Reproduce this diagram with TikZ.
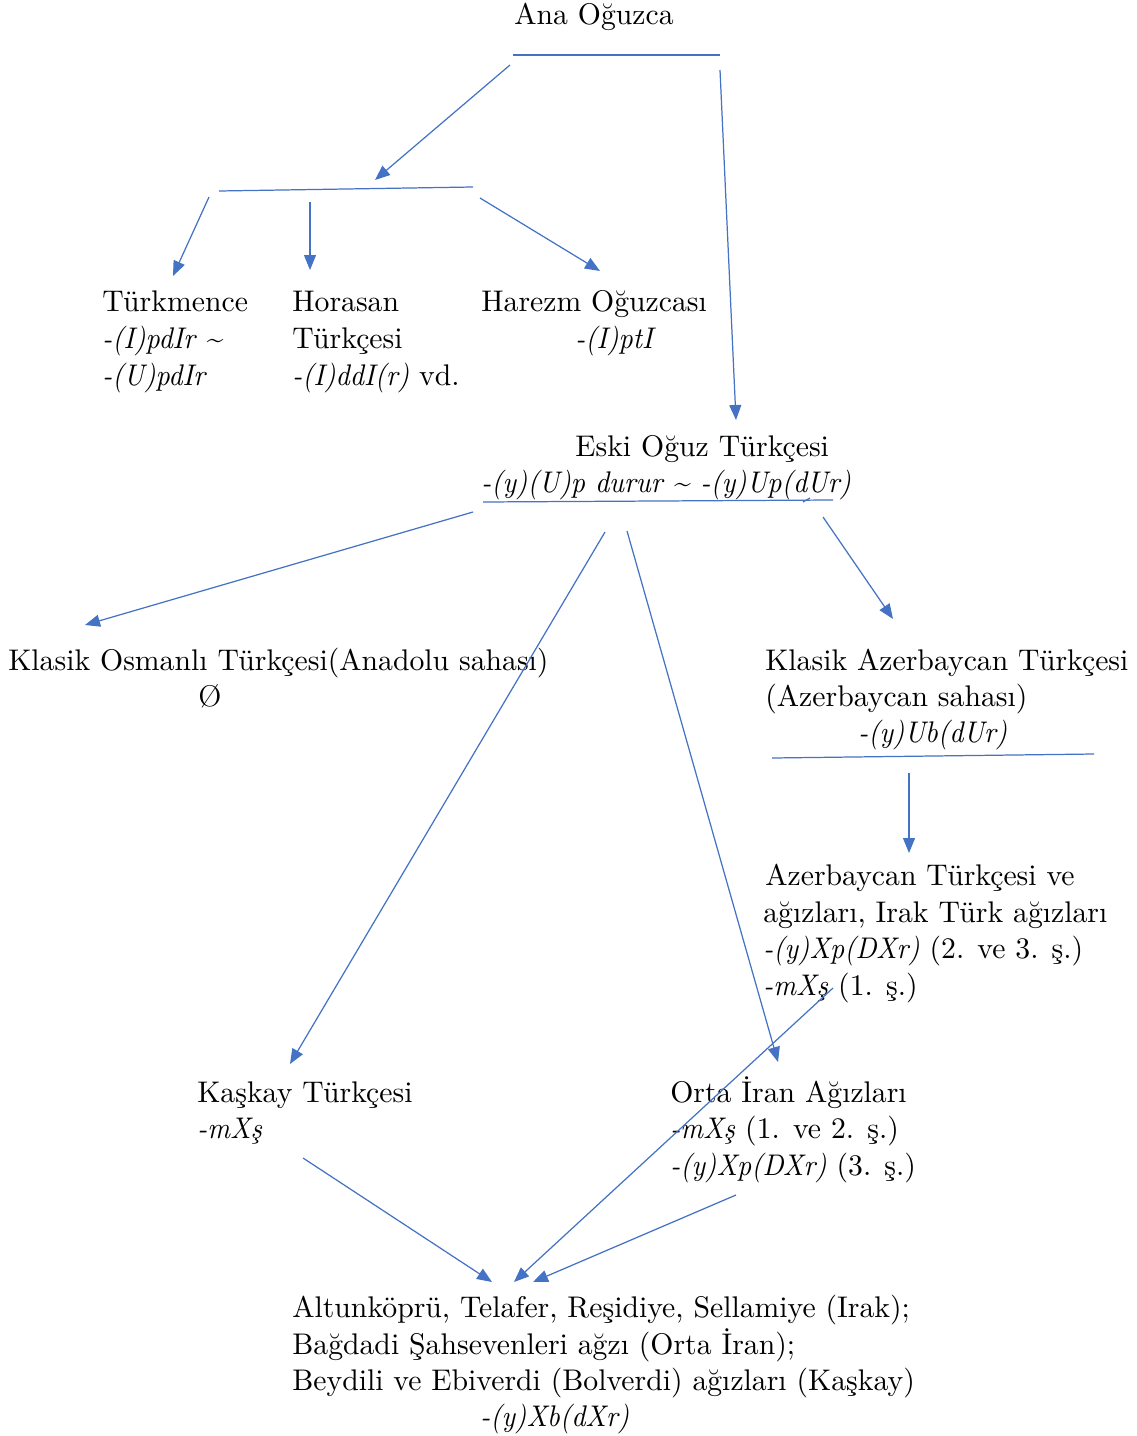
\documentclass[tikz,border=0pt]{standalone}
\usepackage{fontspec}
\setmainfont{lmroman10-regular.otf}[
  ItalicFont=lmroman10-italic.otf,
  BoldFont=lmroman10-bold.otf,
  UprightFeatures={FakeStretch=0.995},
  ItalicFeatures={FakeStretch=0.93}]
\usetikzlibrary{arrows.meta}
\definecolor{lineblue}{HTML}{4472C4}
\newcommand{\tld}{{\upshape\char"007E}}
\tikzset{
  txt/.style={anchor=base west, inner sep=0pt, font=\fontsize{17}{20.5}\selectfont},
  txtc/.style={anchor=base, inner sep=0pt, font=\fontsize{17}{20.5}\selectfont},
  bar/.style={draw=lineblue, line width=0.7pt},
  arr/.style={draw=lineblue, line width=0.7pt, -{Triangle[length=0.3cm,width=0.24cm]}},
}
\begin{document}
\begin{tikzpicture}[x=0.02cm, y=-0.02cm]
\useasboundingbox (0,0) rectangle (1136,1436);
% texts
\node[txtc] (ana) at (594,25) {Ana Oğuzca};
\node[txt] (tk1) at (102,311) {Türkmence};
\node[txt] (tk2) at (102,348) {\textit{-(I)pdIr} \tld};
\node[txt] (tk3) at (102,385) {\itshape -(U)pdIr};
\node[txt] (hr1) at (292,311) {Horasan};
\node[txt] (hr2) at (292,348) {Türkçesi};
\node[txt] (hr3) at (292,385) {\textit{-(I)ddI(r)} vd.};
\node[txt] (hz1) at (481,311) {Harezm Oğuzcası};
\node[txt] (hz2) at (575,348) {\itshape -(I)ptI};
\node[txt] (es1) at (575,456) {Eski Oğuz Türkçesi};
\node[txt] (es2) at (481,492) {\textit{-(y)(U)p durur} \tld{} \textit{-(y)Up(dUr)}};
\node[txt] (ko1) at (8,670) {Klasik Osmanlı Türkçesi(Anadolu sahası)};
\node[txt] (ko2) at (198,706) {Ø};
\node[txt] (ka1) at (765,670) {Klasik Azerbaycan Türkçesi};
\node[txt] (ka2) at (765,706) {(Azerbaycan sahası)};
\node[txt] (ka3) at (858,742) {\itshape -(y)Ub(dUr)};
\node[txt] (az1) at (765,885) {Azerbaycan Türkçesi ve};
\node[txt] (az2) at (763,922) {ağızları, Irak Türk ağızları};
\node[txt] (az3) at (763,958) {\textit{-(y)Xp(DXr)} (2. ve 3. ş.)};
\node[txt] (az4) at (763,995) {\textit{-mXş} (1. ş.)};
\node[txt] (ks1) at (197,1102) {Kaşkay Türkçesi};
\node[txt] (ks2) at (197,1138) {\itshape -mXş};
\node[txt] (or1) at (670,1102) {Orta İran Ağızları};
\node[txt] (or2) at (670,1138) {\textit{-mXş} (1. ve 2. ş.)};
\node[txt] (or3) at (670,1175) {\textit{-(y)Xp(DXr)} (3. ş.)};
\node[txt] (al1) at (292,1317) {Altunköprü, Telafer, Reşidiye, Sellamiye (Irak);};
\node[txt] (al2) at (292,1354) {Bağdadi Şahsevenleri ağzı (Orta İran);};
\node[txt] (al3) at (292,1390) {Beydili ve Ebiverdi (Bolverdi) ağızları (Kaşkay)};
\node[txt] (al4) at (480,1426) {\itshape -(y)Xb(dXr)};
% coordinates
\coordinate (b1a) at (513,55); \coordinate (b1b) at (720,55);
\coordinate (a1s) at (510,65); \coordinate (a1e) at (375,180);
\coordinate (a2s) at (720,70); \coordinate (a2e) at (736,420);
\coordinate (b2a) at (219,191); \coordinate (b2b) at (473,187);
\coordinate (a3s) at (209,197); \coordinate (a3e) at (173,276);
\coordinate (a4s) at (310,202); \coordinate (a4e) at (310,270);
\coordinate (a5s) at (480,198); \coordinate (a5e) at (600,271);
\coordinate (b3a) at (483,502); \coordinate (b3b) at (833,500);
\coordinate (m1) at (803,502); \coordinate (m2) at (810,498);
\coordinate (a6s) at (473,512); \coordinate (a6e) at (85,625);
\coordinate (a7s) at (605,532); \coordinate (a7e) at (290,1064);
\coordinate (a8s) at (627,531); \coordinate (a8e) at (778,1062);
\coordinate (a9s) at (823,517); \coordinate (a9e) at (893,619);
\coordinate (b4a) at (772,758); \coordinate (b4b) at (1094,754);
\coordinate (a10s) at (909,773); \coordinate (a10e) at (909,853);
\coordinate (a11s) at (303,1158); \coordinate (a11e) at (492,1282);
\coordinate (a12s) at (833,988); \coordinate (a12e) at (514,1282);
\coordinate (a13s) at (736,1195); \coordinate (a13e) at (533,1282);
% lines
\draw[bar] (b1a) -- (b1b);
\draw[bar] (b2a) -- (b2b);
\draw[bar] (b3a) -- (b3b);
\draw[bar] (m1) -- (m2);
\draw[bar] (b4a) -- (b4b);
\draw[arr] (a1s) -- (a1e);
\draw[arr] (a2s) -- (a2e);
\draw[arr] (a3s) -- (a3e);
\draw[arr] (a4s) -- (a4e);
\draw[arr] (a5s) -- (a5e);
\draw[arr] (a6s) -- (a6e);
\draw[arr] (a7s) -- (a7e);
\draw[arr] (a8s) -- (a8e);
\draw[arr] (a9s) -- (a9e);
\draw[arr] (a10s) -- (a10e);
\draw[arr] (a11s) -- (a11e);
\draw[arr] (a12s) -- (a12e);
\draw[arr] (a13s) -- (a13e);
\end{tikzpicture}
\end{document}
